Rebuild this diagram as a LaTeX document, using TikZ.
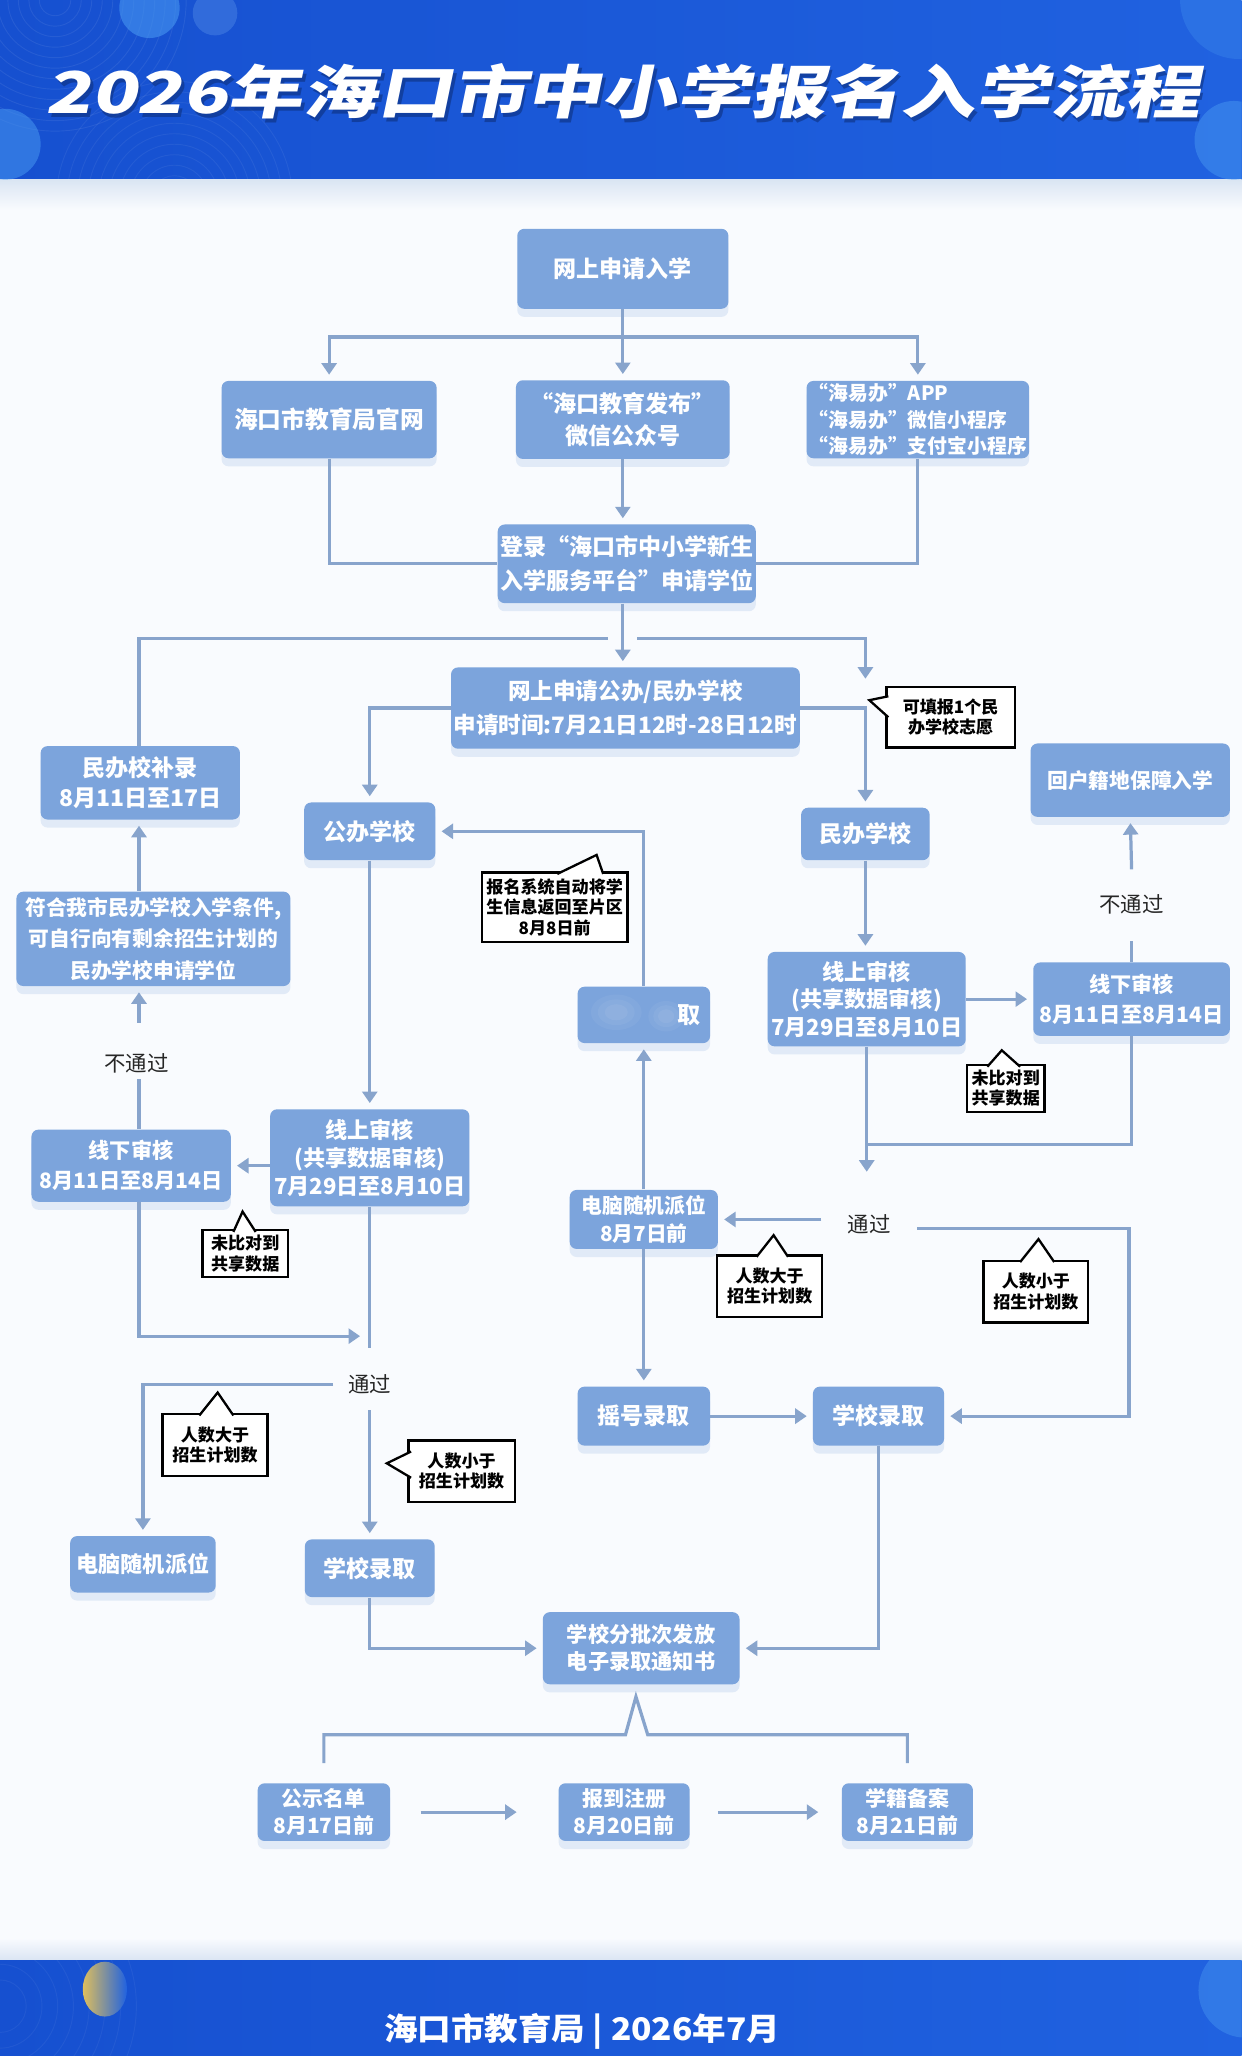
\documentclass[tikz,border=0pt]{standalone}
\usepackage{fontspec}
\setmainfont{Noto Sans CJK SC}
\newfontfamily\titlefont{Noto Sans CJK SC}[FakeSlant=0.16]
\usetikzlibrary{arrows.meta,shadows}
\definecolor{boxblue}{RGB}{124,164,220}
\definecolor{linkblue}{RGB}{136,164,204}
\definecolor{headblueA}{RGB}{22,80,208}
\definecolor{headblueB}{RGB}{32,98,224}
\definecolor{paleband}{RGB}{218,229,243}
\definecolor{pagebg}{RGB}{249,251,254}
\definecolor{glowblue}{RGB}{70,150,240}
\definecolor{moonyellow}{RGB}{222,190,92}

\tikzset{
  flow/.style={rounded corners=3pt, fill=boxblue, text=white, align=center,
    inner sep=1pt, font=\bfseries\fontsize{10}{14}\selectfont,
    drop shadow={shadow xshift=0pt, shadow yshift=-3.5pt, fill=boxblue!45, opacity=0.45}},
  link/.style={draw=linkblue, line width=1.4pt},
  arr/.style={link, -{Triangle[width=6.5pt,length=5pt]}, shorten >=2.5pt},
  note/.style={draw=black, line width=1pt, fill=white, align=center, inner sep=1pt,
    font=\bfseries\fontsize{7.4}{8.8}\selectfont},
  notebeak/.style={draw=black, line width=1pt, fill=white, line join=miter},
  passlabel/.style={font=\fontsize{9.3}{11}\selectfont, text=black!85, inner sep=0pt},
}

\begin{document}
\begin{tikzpicture}[x=0.2mm, y=-0.2mm]

  \useasboundingbox (0,0) rectangle (947,1568);

  % --- page, header and footer bands ---
  \fill[pagebg] (0,0) rectangle (947,1568);
  \shade[left color=headblueA, right color=headblueB] (0,0) rectangle (947,137);
  \shade[top color=paleband, bottom color=pagebg] (0,137) rectangle (947,160);
  \shade[top color=pagebg, bottom color=paleband] (0,1478) rectangle (947,1495);
  \shade[left color=headblueA, right color=headblueB] (0,1495) rectangle (947,1568);

  % --- header decoration: faint rings and glow blobs ---
  \begin{scope}
    \clip (0,0) rectangle (947,137);
    \foreach \r in {12,20,...,100} {
      \draw[white, opacity=0.07] (42,0) circle (\r);
    }
    \foreach \r in {10,18,...,90} {
      \draw[white, opacity=0.06] (133,152) circle (\r);
    }
    \fill[glowblue, opacity=0.6] (114,6) circle (23);
    \fill[glowblue!70!white, opacity=0.25] (164,10) circle (17);
    \fill[glowblue, opacity=0.55] (4,110) circle (27);
    \fill[glowblue, opacity=0.3] (945,0) circle (45);
    \fill[glowblue, opacity=0.5] (941,107) circle (30);
  \end{scope}
  \begin{scope}
    \clip (0,1495) rectangle (947,1568);
    \foreach \r in {20,32,...,110} {
      \draw[white, opacity=0.05] (0,1530) circle (\r);
    }
    \shade[left color=moonyellow, right color=headblueB] (80,1517) ellipse (9.6pt and 11.9pt);
    \fill[glowblue, opacity=0.45] (950,1518) circle (36);
  \end{scope}

  % --- title and footer ---
  \node[font=\titlefont\bfseries\fontsize{25}{30}\selectfont, text=headblueA!60!black, opacity=0.6]
    (titleshade) at (477,73) {\resizebox{17.6cm}{\height}{2026年海口市中小学报名入学流程}};
  \node[font=\titlefont\bfseries\fontsize{25}{30}\selectfont, text=white]
    (title) at (475,70) {\resizebox{17.6cm}{\height}{2026年海口市中小学报名入学流程}};
  \node[font=\bfseries\fontsize{13.5}{16}\selectfont, text=white]
    (footer) at (444,1549) {\resizebox{6.04cm}{\height}{海口市教育局 | 2026年7月}};

  % --- application channels ---
  \node[flow, minimum width=3.22cm, minimum height=1.22cm] (apply) at (475,205) {网上申请入学};
  \node[flow, minimum width=3.28cm, minimum height=1.18cm, font=\bfseries\fontsize{10.3}{14}\selectfont]
    (site) at (251,320) {海口市教育局官网};
  \node[flow, minimum width=3.26cm, minimum height=1.2cm] (wechat) at (475,320)
    {“海口教育发布”\\微信公众号};
  \node[flow, minimum width=3.26cm, minimum height=1.18cm, align=left,
    font=\bfseries\fontsize{8.6}{11.4}\selectfont] (hyb) at (700,320)
    {“海易办”APP\\“海易办”微信小程序\\“海易办”支付宝小程序};
  \node[flow, minimum width=3.84cm, minimum height=1.2cm, font=\bfseries\fontsize{10}{14.7}\selectfont]
    (platform) at (478,430) {登录“海口市中小学新生\\入学服务平台”申请学位};
  \node[flow, minimum width=5.32cm, minimum height=1.24cm, font=\bfseries\fontsize{9.8}{14.7}\selectfont]
    (online) at (477,540) {网上申请公办/民办学校\\申请时间:7月21日12时-28日12时};

  % --- left column (public schools / supplementary) ---
  \node[flow, minimum width=3.04cm, minimum height=1.12cm, font=\bfseries\fontsize{10}{13}\selectfont]
    (supp) at (107,597) {民办校补录\\8月11日至17日};
  \node[flow, minimum width=2.0cm, minimum height=0.88cm] (pub) at (282,634) {公办学校};
  \node[flow, minimum width=4.18cm, minimum height=1.44cm, font=\bfseries\fontsize{9}{13.6}\selectfont]
    (cond) at (117,716) {符合我市民办学校入学条件,\\可自行向有剩余招生计划的\\民办学校申请学位};
  \node[flow, minimum width=3.04cm, minimum height=1.1cm, font=\bfseries\fontsize{9.2}{13}\selectfont]
    (offL) at (100,889) {线下审核\\8月11日至8月14日};
  \node[flow, minimum width=3.04cm, minimum height=1.48cm, font=\bfseries\fontsize{9.6}{12}\selectfont]
    (revL) at (282,883) {线上审核\\(共享数据审核)\\7月29日至8月10日};
  \node[flow, minimum width=2.22cm, minimum height=0.86cm, font=\bfseries\fontsize{9.6}{12}\selectfont]
    (lottoL) at (109,1193) {电脑随机派位};
  \node[flow, minimum width=1.98cm, minimum height=0.88cm] (admitL) at (282,1196) {学校录取};

  % --- middle column (lottery) ---
  \node[flow, minimum width=2.02cm, minimum height=0.86cm, text width=1.72cm, align=right]
    (blur) at (491,774) {取};
  % smudged text in the blurred box
  \foreach \r/\o in {11/0.05,8/0.05,5/0.06} {
    \fill[white, opacity=\o] (470,772) ellipse ({\r pt} and {0.7*\r pt});
    \fill[white, opacity=\o] (508,775) ellipse ({0.7*\r pt} and {0.6*\r pt});
  }

  \node[flow, minimum width=2.26cm, minimum height=0.9cm, font=\bfseries\fontsize{9}{12.5}\selectfont]
    (lotto) at (491,930) {电脑随机派位\\8月7日前};
  \node[flow, minimum width=2.02cm, minimum height=0.9cm] (draw) at (491,1080) {摇号录取};
  \node[flow, minimum width=2.0cm, minimum height=0.9cm] (admitM) at (670,1080) {学校录取};

  % --- right column (private schools) ---
  \node[flow, minimum width=1.96cm, minimum height=0.8cm] (priv) at (660,636) {民办学校};
  \node[flow, minimum width=3.04cm, minimum height=1.12cm, font=\bfseries\fontsize{9}{12}\selectfont]
    (home) at (862,595) {回户籍地保障入学};
  \node[flow, minimum width=3.02cm, minimum height=1.44cm, font=\bfseries\fontsize{9.6}{12}\selectfont]
    (revR) at (661,762) {线上审核\\(共享数据审核)\\7月29日至8月10日};
  \node[flow, minimum width=3.0cm, minimum height=1.12cm, font=\bfseries\fontsize{9.2}{13}\selectfont]
    (offR) at (863,762) {线下审核\\8月11日至8月14日};

  % --- final steps ---
  \node[flow, minimum width=3.0cm, minimum height=1.1cm, font=\bfseries\fontsize{9.2}{11.7}\selectfont]
    (notice) at (489,1257) {学校分批次发放\\电子录取通知书};
  \node[flow, minimum width=2.02cm, minimum height=0.88cm, font=\bfseries\fontsize{9.1}{11.6}\selectfont]
    (pub17) at (247,1382) {公示名单\\8月17日前};
  \node[flow, minimum width=2.0cm, minimum height=0.88cm, font=\bfseries\fontsize{9.1}{11.6}\selectfont]
    (reg20) at (476,1382) {报到注册\\8月20日前};
  \node[flow, minimum width=2.0cm, minimum height=0.88cm, font=\bfseries\fontsize{9.1}{11.6}\selectfont]
    (rec21) at (692,1382) {学籍备案\\8月21日前};

  % --- pass / fail labels ---
  \node[passlabel] (nopassL) at (104,811) {不通过};
  \node[passlabel] (nopassR) at (863,690) {不通过};
  \node[passlabel, minimum width=1.45cm] (passR) at (663,934) {通过};
  \node[passlabel, minimum width=1.1cm, minimum height=0.76cm] (passL) at (282,1056) {通过};

  % --- junction points ---
  \coordinate (fanTop) at (475,257);
  \coordinate (barL) at (106,487);
  \coordinate (gapL) at (464,487);
  \coordinate (gapR) at (486,487);
  \coordinate (privDrop) at (660,522);
  \coordinate (mergeR) at (661,873);
  \coordinate (cornerR) at (861,937);
  \coordinate (mergeL) at (279,1019);

  % --- connectors: top part ---
  \draw[link] (apply.south) -- (fanTop);
  \draw[arr] (fanTop) -- (wechat.north);
  \draw[arr] (fanTop) -| (site.north);
  \draw[arr] (fanTop) -| (hyb.north);
  \draw[link] (site.south) |- (platform.west);
  \draw[link] (hyb.south) |- (platform.east);
  \draw[arr] (wechat.south) -- (wechat.south |- platform.north);
  \draw[arr] (platform.south -| fanTop) -- (online.north -| fanTop);
  \draw[link] (supp.north -| barL) -- (barL) -- (gapL);
  \draw[arr] (gapR) -| (privDrop);
  \draw[arr] (online.west) -| (pub.north);
  \draw[arr] (online.east) -| (priv.north);

  % --- connectors: private branch ---
  \draw[arr] (priv.south) -- (priv.south |- revR.north);
  \draw[arr] (revR.east) -- (revR.east -| offR.west);
  \draw[link] (offR.north) -- (offR.north |- 0,718);
  \draw[arr] (offR.north |- 0,663) -- (home.south);
  \draw[link] (offR.south) |- (mergeR);
  \draw[arr] (revR.south) -- (revR.south |- 0,898);
  \draw[arr] (passR.west |- lotto.east) -- (lotto.east);
  \draw[arr] (passR.east |- cornerR) -- (cornerR) |- (admitM.east);

  % --- connectors: lottery ---
  \draw[arr] (lotto.north) -- (blur.south);
  \draw[arr] (blur.north) |- (pub.east);
  \draw[arr] (lotto.south) -- (draw.north);
  \draw[arr] (draw.east) -- (admitM.west);
  \draw[arr] (admitM.south) |- (notice.east);

  % --- connectors: public branch ---
  \draw[arr] (pub.south) -- (revL.north);
  \draw[arr] (revL.west |- offL.east) -- (offL.east);
  \draw[link] (offL.north -| barL) -- (barL |- 0,823);
  \draw[arr] (barL |- 0,780) -- (cond.south -| barL);
  \draw[arr] (cond.north -| barL) -- (supp.south -| barL);
  \draw[arr] (offL.south -| barL) |- (mergeL);
  \draw[link] (revL.south) -- (revL.south |- 0,1028);
  \draw[arr] (passL.west) -| (lottoL.north);
  \draw[arr] (passL.south) -- (admitL.north);
  \draw[arr] (admitL.south) |- (notice.west);

  % --- connectors: after the notice ---
  \draw[link] ([yshift=8.5pt]pub17.north) |- (477,1323) -- (485,1294) -- (494,1323)
    -| ([yshift=8.5pt]rec21.north);
  \draw[arr, shorten <=13pt, shorten >=18pt] (pub17.east) -- (reg20.west);
  \draw[arr, shorten <=12pt, shorten >=10pt] (reg20.east) -- (rec21.west);

  % --- speech-bubble notes ---
  \node[note, minimum width=1.96cm, minimum height=0.92cm] (noteA) at (725,547) {可填报1个民\\办学校志愿};
  \node[note, minimum width=2.22cm, minimum height=1.06cm] (noteB) at (423,692)
    {报名系统自动将学\\生信息返回至片区\\8月8日前};
  \node[note, minimum width=1.18cm, minimum height=0.72cm] (noteC) at (767,830) {未比对到\\共享数据};
  \node[note, minimum width=1.3cm, minimum height=0.72cm] (noteD) at (187,956) {未比对到\\共享数据};
  \node[note, minimum width=1.6cm, minimum height=0.94cm] (noteE) at (587,981) {人数大于\\招生计划数};
  \node[note, minimum width=1.6cm, minimum height=0.94cm] (noteF) at (790,985) {人数小于\\招生计划数};
  \node[note, minimum width=1.6cm, minimum height=0.94cm] (noteG) at (164,1102) {人数大于\\招生计划数};
  \node[note, minimum width=1.62cm, minimum height=0.94cm] (noteH) at (352,1122) {人数小于\\招生计划数};

  % beaks: base point, tip, base point (bases sit just inside the note)
  \foreach \a/\t/\b in {
      {677.5,531}/{663,534}/{677.5,547},
      {425,666.5}/{455,652}/{460,666.5},
      {753,813.5}/{764,801}/{778,813.5},
      {178,939.5}/{185,924}/{195,939.5},
      {577,958.5}/{590,942}/{601,958.5},
      {778,962.5}/{792,945}/{804,962.5},
      {152,1079.5}/{166,1062}/{178,1079.5},
      {313.5,1107}/{295,1116}/{313.5,1127}} {
    \draw[notebeak] (\a) -- (\t) -- (\b);
  }

\end{tikzpicture}
\end{document}
